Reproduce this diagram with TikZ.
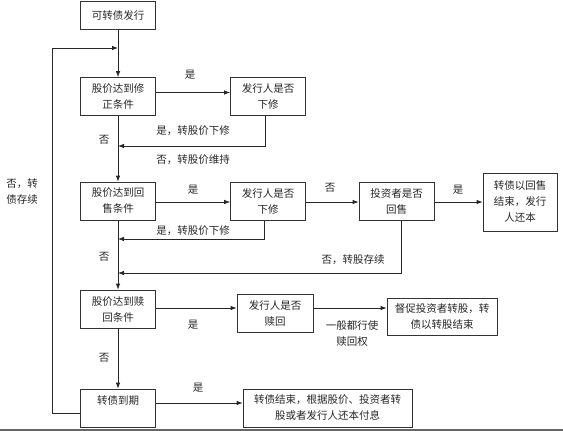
\documentclass[tikz,border=0pt]{standalone}
\usepackage{fontspec}
\setmainfont{Noto Sans CJK SC}
\usetikzlibrary{arrows.meta,calc}
\begin{document}
\begin{tikzpicture}[x=1pt,y=-1pt,
  box/.style={draw=black!80,line width=0.7pt,rectangle,inner sep=0pt,align=center,
     minimum width=75pt,minimum height=38pt,font=\fontsize{10.5}{16}\selectfont,text=black!85},
  lab/.style={inner sep=0pt,align=center,font=\fontsize{10.5}{16}\selectfont,text=black!85},
  arr/.style={draw=black!85,line width=0.8pt,-{Latex[length=6pt,width=4.5pt]}},
  ln/.style={draw=black!85,line width=0.8pt}]
\useasboundingbox (0,0) rectangle (563,431);
% nodes
\node[box,minimum height=27.5pt] (b0) at (118,15.3) {可转债发行};
\node[box] (b1) at (118,96.5) {股价达到修\\正条件};
\node[box] (i1) at (268,96) {发行人是否\\下修};
\node[box] (b2) at (118,201) {股价达到回\\售条件};
\node[box] (i2) at (268,201.5) {发行人是否\\下修};
\node[box] (v2) at (396.5,201.5) {投资者是否\\回售};
\node[box,minimum width=74pt,minimum height=58pt] (e2) at (520,202) {转债以回售\\结束，发行\\人还本};
\node[box] (b3) at (118,309) {股价达到赎\\回条件};
\node[box,minimum width=76pt] (r3) at (275,313) {发行人是否\\赎回};
\node[box,minimum width=110pt,minimum height=37pt] (u3) at (442,316.5) {督促投资者转股，转\\债以转股结束};
\node[box] (b4) at (118,408) {转债到期\\~};
\node[box,minimum width=169pt] (f4) at (327.5,408) {转债结束，根据股价、投资者转\\股或者发行人还本付息};
% coordinates
\coordinate (j0) at (118,48);
\coordinate (lpb) at (52,413);
\coordinate (lpt) at (52,48);
\coordinate (c1) at (265,146);
\coordinate (j1) at (118,146);
\coordinate (c2) at (264,239);
\coordinate (j2) at (118,239);
\coordinate (c3) at (401,273);
\coordinate (j3) at (118,273);
% connectors
\draw[arr] (b0) -- (b1);
\draw[arr] (lpb -| b4.west) -- (lpb) -- (lpt) -- (j0);
\draw[arr] (b1.east |- 0,92.5) -- (i1.west |- 0,92.5);
\draw[arr] (c1 |- i1.south) -- (c1) -- (j1);
\draw[arr] (b1) -- (b2);
\draw[arr] (b2.east |- 0,202) -- (i2.west |- 0,202);
\draw[arr] (i2.east |- 0,202) -- (v2.west |- 0,202);
\draw[arr] (v2.east |- 0,202) -- (e2.west |- 0,202);
\draw[arr] (c2 |- i2.south) -- (c2) -- (j2);
\draw[arr] (c3 |- v2.south) -- (c3) -- (j3);
\draw[arr] (b2) -- (b3);
\draw[arr] (b3.east |- 0,308) -- (r3.west |- 0,308);
\draw[arr] (r3.east |- 0,308) -- (u3.west |- 0,308);
\draw[arr] (b3) -- (b4);
\draw[arr] (b4.east |- 0,403) -- (f4.west |- 0,403);
% labels
\node[lab] (l1) at (190,75) {是};
\node[lab] (l2) at (104,140) {否};
\node[lab] (l3) at (193,131) {是，转股价下修};
\node[lab] (l4) at (193,160) {否，转股价维持};
\node[lab] (l5) at (22,191.5) {否，转\\债存续};
\node[lab] (l6) at (193,190) {是};
\node[lab] (l7) at (330,188) {否};
\node[lab] (l8) at (458,190) {是};
\node[lab] (l9) at (193,231) {是，转股价下修};
\node[lab] (l10) at (104,257) {否};
\node[lab] (l11) at (353,260) {否，转股存续};
\node[lab] (l12) at (193,325) {是};
\node[lab] (l13) at (352,333.5) {一般都行使\\赎回权};
\node[lab] (l14) at (104,358) {否};
\node[lab] (l15) at (198,388) {是};
% bottom rule
\draw[draw=black!60,line width=1.5pt] (0,430) -- (563,430);
\end{tikzpicture}
\end{document}
